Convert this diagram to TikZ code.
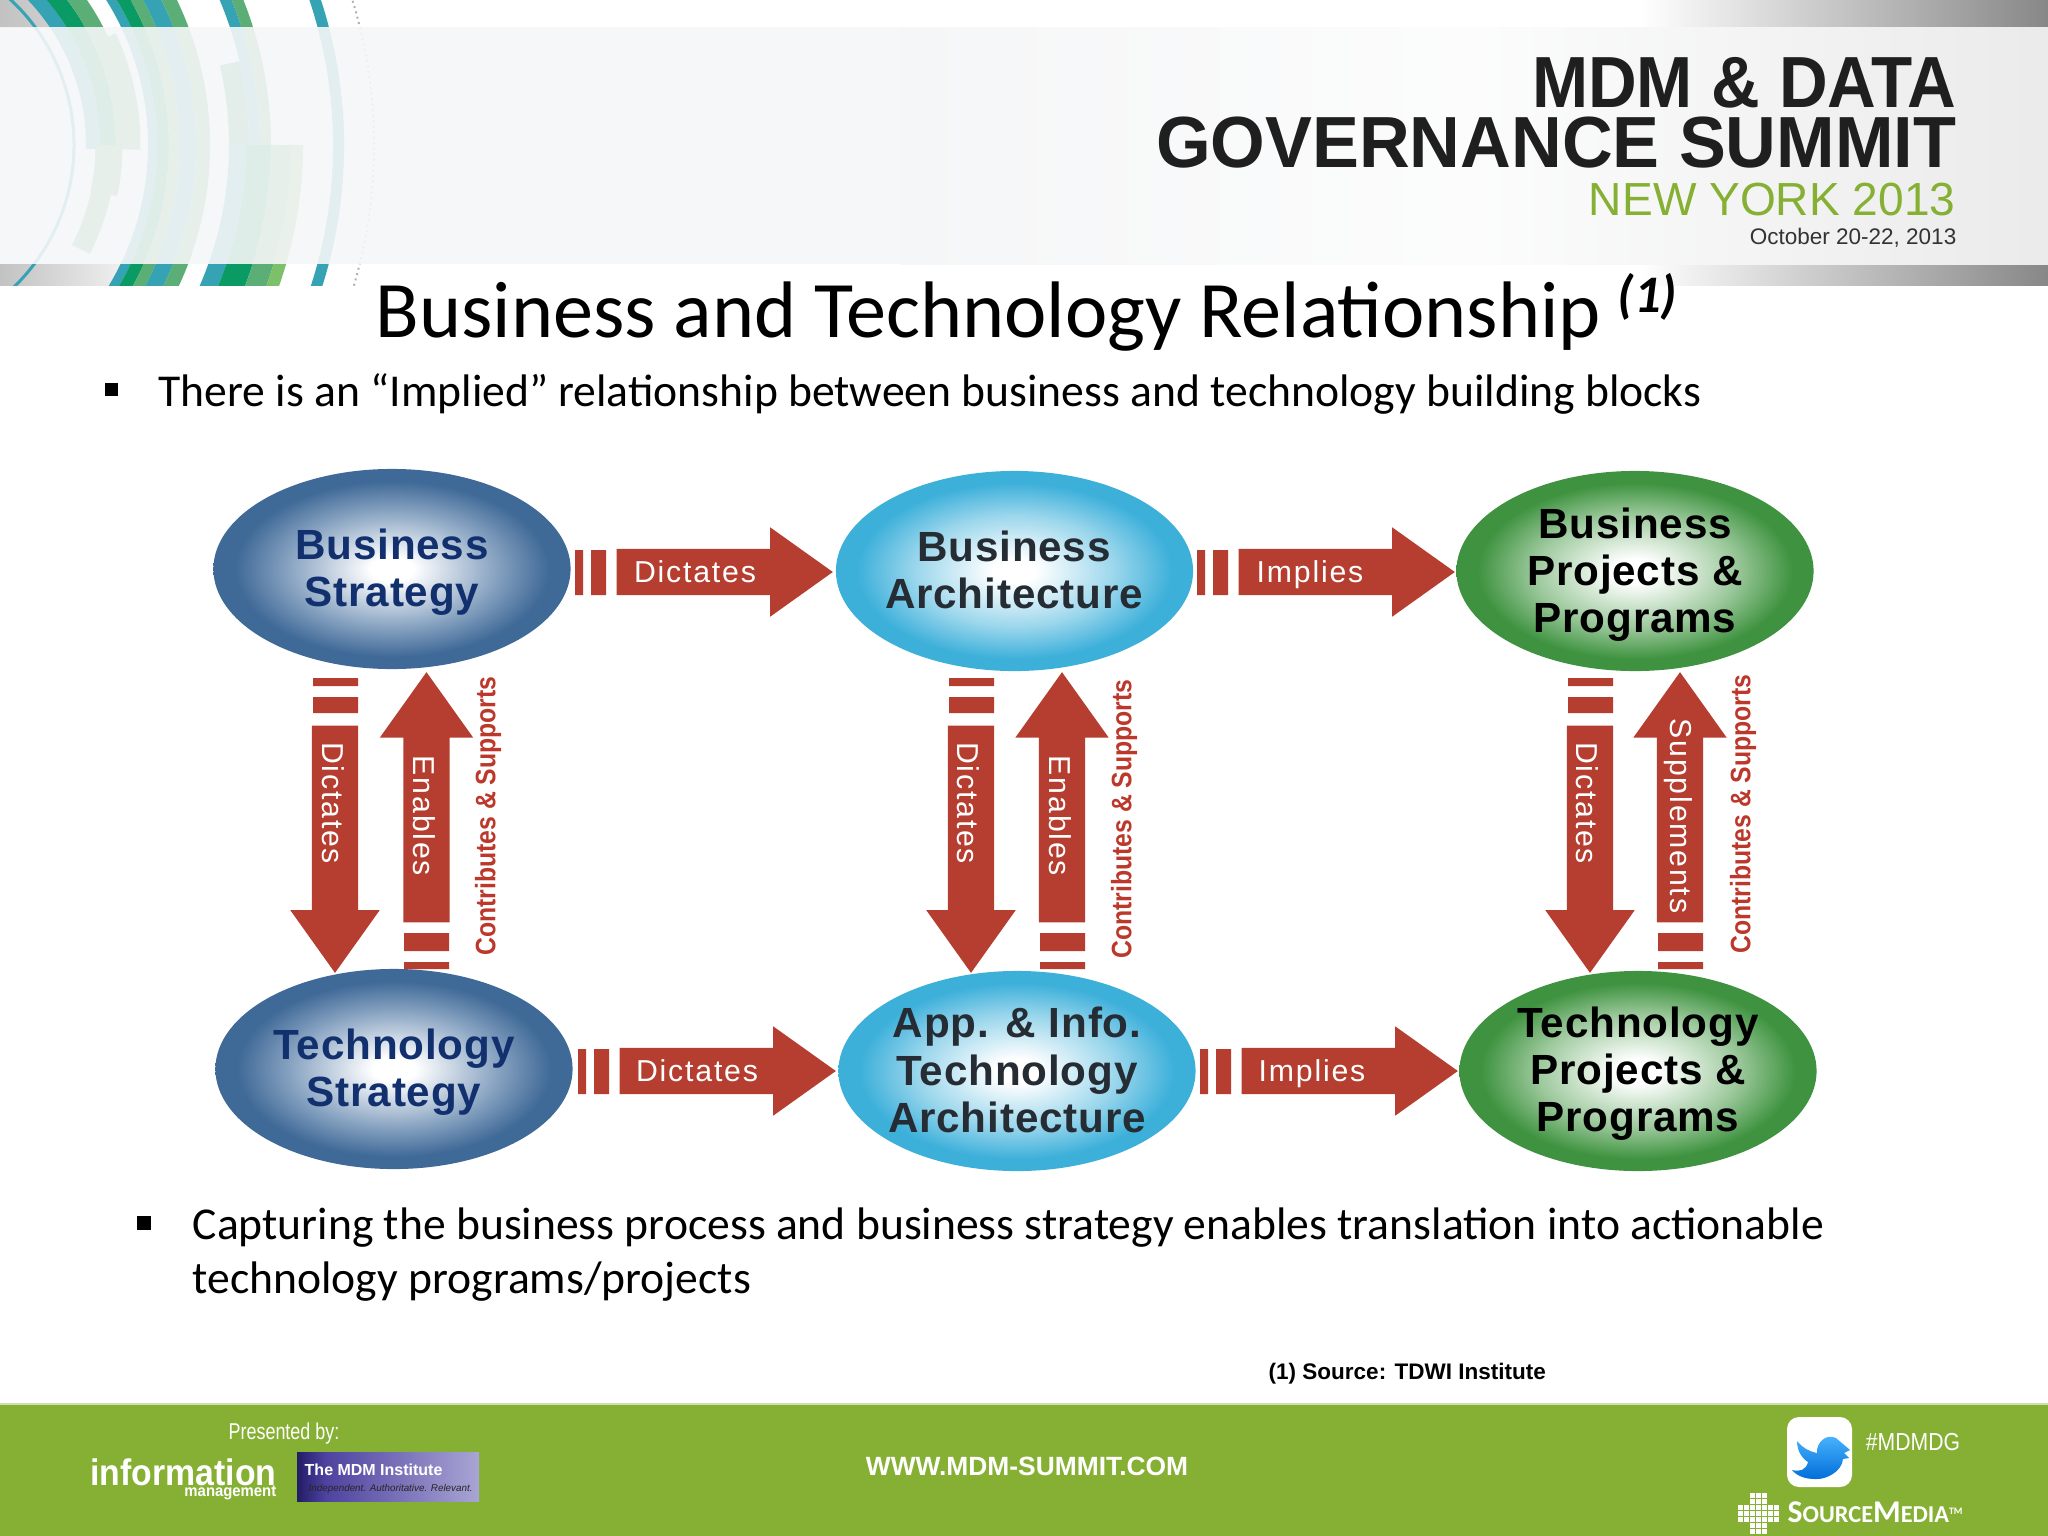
\documentclass[tikz,border=0pt]{standalone}
\usepackage{fontspec}
\setmainfont{Carlito}
\newfontfamily\arialfont{Liberation Sans}
\newfontfamily\ovalfont[LetterSpace=2]{Liberation Sans Bold}
\newfontfamily\arrowfont[LetterSpace=6]{Liberation Sans}
\usetikzlibrary{shapes.geometric,shapes.arrows}

\definecolor{ringteal}{HTML}{35A3B4}
\definecolor{ringdark}{HTML}{0A9A64}
\definecolor{ringgreen}{HTML}{5AAE76}
\definecolor{ringlight}{HTML}{7CC06A}
\definecolor{bandcol}{HTML}{F5F6F7}
\definecolor{footgreen}{HTML}{86B033}
\definecolor{arrowred}{HTML}{B53E30}
\definecolor{blueedge}{HTML}{3F6997}
\definecolor{bluemid}{HTML}{8DA7C4}
\definecolor{cyanedge}{HTML}{3DB0DA}
\definecolor{cyanmid}{HTML}{9AD6EC}
\definecolor{greenedge}{HTML}{3F9340}
\definecolor{greenmid}{HTML}{9DC99D}
\definecolor{ovalnavy}{HTML}{12306E}
\definecolor{ovalgray}{HTML}{262C33}
\definecolor{mdmdark}{HTML}{221D66}
\definecolor{mdmmid}{HTML}{4D429F}
\definecolor{mdmlight}{HTML}{A9A5D4}

\pgfdeclareradialshading{ovalblue}{\pgfpoint{0bp}{0bp}}{color(0bp)=(white); color(3bp)=(white); color(14bp)=(bluemid); color(22bp)=(blueedge); color(50bp)=(blueedge)}
\pgfdeclareradialshading{ovalcyan}{\pgfpoint{0bp}{0bp}}{color(0bp)=(white); color(3bp)=(white); color(14bp)=(cyanmid); color(22bp)=(cyanedge); color(50bp)=(cyanedge)}
\pgfdeclareradialshading{ovalgreen}{\pgfpoint{0bp}{0bp}}{color(0bp)=(white); color(3bp)=(white); color(14bp)=(greenmid); color(22bp)=(greenedge); color(50bp)=(greenedge)}

\tikzset{
  oval/.style={ellipse,minimum width=3.57cm,minimum height=2cm,inner sep=0pt},
  ovaltext/.style={align=center,inner sep=0pt,font=\ovalfont\fontsize{12}{13.4}\selectfont},
  blockarrow/.style={single arrow,draw=none,fill=arrowred,inner sep=.225cm,minimum width=.88cm,
    single arrow head extend=.215cm,single arrow tip angle=71,anchor=tail},
  arrowtext/.style={text=white,font=\arrowfont\fontsize{8.6}{10}\selectfont,inner sep=0pt},
  sidetext/.style={text=arrowred!90!red,rotate=90,inner sep=0pt,font=\arialfont\bfseries\fontsize{8}{10}\selectfont},
  stripe/.style={fill=arrowred},
  footwhite/.style={text=white,inner sep=0pt}
}

\begin{document}
\begin{tikzpicture}
  \begin{scope}[x=.01cm,y=-.01cm]
    \useasboundingbox (0,0) rectangle (2048,1536);

    % header
    \begin{scope}
      \clip (0,0) rectangle (2048,285);
      \shade[left color=white,right color=black!47] (1640,0) rectangle (2048,27);
      \shade[left color=white,right color=black!47] (1640,264) rectangle (2048,285);
      \shade[left color=black!24,right color=black!18] (0,0) rectangle (60,27);
      \shade[left color=black!24,right color=black!5] (0,264) rectangle (130,285);

      \begin{scope}[shift={(-124,145)}]
        \draw[line width=.03cm,color=ringteal] (-60:198) arc(-60:60:198);
        \draw[line width=.14cm,color=ringteal] (-60:217) arc(-60:1:217);
        \draw[line width=.16cm,color=ringdark] (-60:232) arc(-60:1:232);
        \draw[line width=.16cm,color=ringgreen] (-60:248) arc(-60:1:248);
        \draw[line width=.09cm,color=ringgreen] (-25:260) arc(-25:1:260);
        \draw[line width=.27cm,color=ringgreen] (0:233) arc(0:12:233);
        \draw[line width=.20cm,color=ringgreen] (12:230) arc(12:27:230);
        \draw[line width=.09cm,color=ringteal] (-60:276.5) arc(-60:60:276.5);
        \draw[line width=.12cm,color=ringdark] (-60:287) arc(-60:60:287);
        \draw[line width=.11cm,color=ringgreen] (-60:298.5) arc(-60:60:298.5);
        \draw[line width=.16cm,color=ringteal] (-60:312) arc(-60:60:312);
        \draw[line width=.14cm,color=ringgreen] (-60:327) arc(-60:60:327);
        \draw[line width=.11cm,color=ringteal] (-60:378.5) arc(-60:0:378.5);
        \draw[line width=.11cm,color=ringgreen] (-60:389.5) arc(-60:0:389.5);
        \draw[line width=.20cm,color=ringdark!55!ringgreen] (-13:363) arc(-13:0:363);
        \draw[line width=.17cm,color=ringteal] (0:361.5) arc(0:60:361.5);
        \draw[line width=.25cm,color=ringdark] (0:382.5) arc(0:60:382.5);
        \draw[line width=.20cm,color=ringgreen] (0:405) arc(0:60:405);
        \draw[line width=.12cm,color=ringlight] (0:421) arc(0:60:421);
        \draw[line width=.11cm,color=ringteal] (-60:462.5) arc(-60:60:462.5);
        \draw[line width=.02cm,color=black!30,densely dotted] (-60:498) arc(-60:60:498);
      \end{scope}

      \fill[bandcol,opacity=.91] (0,27) rectangle (900,264);
      \shade[left color=bandcol,right color=black!8,middle color=white!70!bandcol] (900,27) rectangle (2048,264);
    \end{scope}

    \node[anchor=base east,inner sep=0pt] (topline) at (1957,107) {\arialfont\bfseries\fontsize{20.6}{24}\selectfont\color{black!88}\scalebox{.93}[1]{MDM \& DATA}};
    \node[anchor=base east,inner sep=0pt] (midline) at (1957,167) {\arialfont\bfseries\fontsize{20.6}{24}\selectfont\color{black!88}\scalebox{.97}[1]{GOVERNANCE SUMMIT}};
    \node[anchor=base east,inner sep=0pt] (cityline) at (1956,215) {\arialfont\fontsize{13.2}{16}\selectfont\color{footgreen}\scalebox{.993}[1]{NEW YORK 2013}};
    \node[anchor=base east,inner sep=0pt] (dateline) at (1957,244) {\arialfont\fontsize{6.4}{8}\selectfont\color{black!80}October 20-22, 2013};

    % title and bullets
    \node[anchor=base west,inner sep=0pt] (title) at (375,337) {\fontsize{22.8}{27}\selectfont Business and Technology Relationship};
    \node[anchor=base west,inner sep=0pt] (titlemark) at (1617,312) {\fontsize{15}{18}\selectfont\bfseries\itshape (1)};
    \fill (105,383) rectangle (118,396);
    \node[anchor=base west,inner sep=0pt] (firstbullet) at (158,406) {\fontsize{12.97}{15.4}\selectfont There is an “Implied” relationship between business and technology building blocks};
    \fill (137,1216) rectangle (151,1230);
    \node[anchor=base west,inner sep=0pt] (secondbulletA) at (192,1239) {\fontsize{12.97}{15.4}\selectfont Capturing the business process and business strategy enables translation into actionable};
    \node[anchor=base west,inner sep=0pt] (secondbulletB) at (192,1293) {\fontsize{12.97}{15.4}\selectfont technology programs/projects};
    \node[anchor=west,inner sep=0pt] (source) at (1268,1374) {\arialfont\bfseries\fontsize{6.4}{8}\selectfont (1) Source: TDWI Institute};

    % ovals
    \node[oval,shading=ovalblue] (busstrategy) at (392,569) {};
    \node[oval,shading=ovalcyan] (busarch) at (1014.5,571) {};
    \node[oval,shading=ovalgreen] (busprojects) at (1635,571) {};
    \node[oval,shading=ovalblue] (techstrategy) at (394,1069) {};
    \node[oval,shading=ovalcyan] (apparch) at (1017,1071) {};
    \node[oval,shading=ovalgreen] (techprojects) at (1638,1071) {};
    \node[ovaltext,text=ovalnavy] (busstrategytext) at (392,572) {Business\\Strategy};
    \node[ovaltext,text=ovalgray] (busarchtext) at (1014,570) {Business\\Architecture};
    \node[ovaltext,text=black] (busprojectstext) at (1635,575) {Business\\Projects \&\\Programs};
    \node[ovaltext,text=ovalnavy] (techstrategytext) at (394,1072) {Technology\\Strategy};
    \node[ovaltext,text=ovalgray] (apparchtext) at (1017,1070) {App. \& Info.\\Technology\\Architecture};
    \node[ovaltext,text=black] (techprojectstext) at (1638,1074) {Technology\\Projects \&\\Programs};

    % horizontal arrows
    \node[blockarrow,minimum height=2.16cm] (dictatesA) at (616,572) {};
    \node[arrowtext] (dictatesAtext) at (695,572) {Dictates};
    \node[blockarrow,minimum height=2.16cm] (impliesA) at (1238,572) {};
    \node[arrowtext] (impliesAtext) at (1310,575) {Implies};
    \node[blockarrow,minimum height=2.16cm] (dictatesB) at (619,1071) {};
    \node[arrowtext] (dictatesBtext) at (697,1071) {Dictates};
    \node[blockarrow,minimum height=2.16cm] (impliesB) at (1241,1071) {};
    \node[arrowtext] (impliesBtext) at (1312,1074) {Implies};
    \fill[stripe]
    (575,550) rectangle (583,595)  (591,550) rectangle (606,595)
    (1197,550) rectangle (1205,595)  (1213,550) rectangle (1228,595)
    (578,1049) rectangle (586,1094)  (594,1049) rectangle (609,1094)
    (1200,1049) rectangle (1208,1094)  (1216,1049) rectangle (1231,1094)
    ;

    % down arrows
    \node[blockarrow,shape border rotate=270,minimum height=2.47cm] (dictatesC) at (335,725) {};
    \node[arrowtext,rotate=-90] (dictatesCtext) at (333,803) {Dictates};
    \node[blockarrow,shape border rotate=270,minimum height=2.47cm] (dictatesD) at (971,725) {};
    \node[arrowtext,rotate=-90] (dictatesDtext) at (968,803) {Dictates};
    \node[blockarrow,shape border rotate=270,minimum height=2.47cm] (dictatesE) at (1590,725) {};
    \node[arrowtext,rotate=-90] (dictatesEtext) at (1587,803) {Dictates};
    \fill[stripe]
    (313,678) rectangle (358,686)  (313,697) rectangle (358,713)
    (949,678) rectangle (994,686)  (949,697) rectangle (994,713)
    (1568,678) rectangle (1613,686)  (1568,697) rectangle (1613,713)
    ;

    % up arrows
    \node[blockarrow,shape border rotate=90,minimum width=.92cm,single arrow head extend=.235cm,minimum height=2.5cm] (enablesA) at (426.5,923) {};
    \node[arrowtext,rotate=-90] (enablesAtext) at (424,816) {Enables};
    \node[blockarrow,shape border rotate=90,minimum width=.92cm,single arrow head extend=.235cm,minimum height=2.5cm] (enablesB) at (1062,923) {};
    \node[arrowtext,rotate=-90] (enablesBtext) at (1060,816) {Enables};
    \node[blockarrow,shape border rotate=90,minimum width=.92cm,single arrow head extend=.235cm,minimum height=2.5cm] (supplements) at (1680,923) {};
    \node[arrowtext,rotate=-90] (supplementstext) at (1678,816) {Supplements};
    \fill[stripe]
    (404,933) rectangle (449,951)  (404,962) rectangle (449,969)
    (1040,933) rectangle (1085,951)  (1040,962) rectangle (1085,969)
    (1658,933) rectangle (1703,951)  (1658,962) rectangle (1703,969)
    ;

    \node[sidetext] (contribA) at (488,816) {\scalebox{.88}[1]{Contributes \& Supports}};
    \node[sidetext] (contribB) at (1124,819) {\scalebox{.88}[1]{Contributes \& Supports}};
    \node[sidetext] (contribC) at (1743,814) {\scalebox{.88}[1]{Contributes \& Supports}};

    % footer
    \fill[footgreen] (0,1404) rectangle (2048,1536);
    \fill[footgreen!40!white] (0,1403) rectangle (2048,1405);
    \node[footwhite] (presented) at (284,1434) {\arialfont\fontsize{6.5}{8}\selectfont\scalebox{.785}[1]{Presented by:}};
    \node[footwhite,anchor=base east] (infologo) at (277,1485) {\arialfont\bfseries\fontsize{10.5}{12}\selectfont\scalebox{.915}[1]{information}};
    \node[footwhite,anchor=base east] (mgmtlogo) at (277,1496) {\arialfont\bfseries\fontsize{4.6}{5}\selectfont\scalebox{.92}[1]{management}};
    \shade[left color=mdmdark,right color=mdmmid] (297,1452) rectangle (325,1501);
    \shade[left color=mdmmid,right color=mdmlight] (325,1452) rectangle (479,1501);
    \node[footwhite,anchor=west] (mdmname) at (304,1470) {\arialfont\bfseries\fontsize{4.55}{6}\selectfont The MDM Institute};
    \node[anchor=west,inner sep=0pt,text=black!85] (mdmmotto) at (308,1489) {\arialfont\itshape\fontsize{2.8}{4}\selectfont Independent. Authoritative. Relevant.};
    \node[footwhite] (website) at (1027,1466) {\arialfont\bfseries\fontsize{7.5}{9}\selectfont WWW.MDM-SUMMIT.COM};
    \fill[white,rounded corners=.12cm] (1787,1417) rectangle (1852,1487);
    \shade[top color=cyan!60!blue!70!white,bottom color=cyan!50!blue!85!black]
    (1797,1441) .. controls (1803,1448) and (1808,1451) .. (1817,1453)
    .. controls (1816,1443) and (1826,1433) .. (1836,1438)
    -- (1850,1450) -- (1844,1453) -- (1849,1458) -- (1843,1459)
    .. controls (1842,1472) and (1825,1480) .. (1815,1479)
    .. controls (1805,1479) and (1797,1476) .. (1792,1470)
    .. controls (1800,1472) and (1806,1470) .. (1808,1462)
    .. controls (1803,1459) and (1797,1452) .. (1797,1441) -- cycle;
    \node[footwhite] (hashtag) at (1913,1442) {\arialfont\fontsize{7}{8}\selectfont\scalebox{.86}[1]{\#MDMDG}};
    \foreach \i in {-3,...,3} \foreach \j in {-1,...,1} {
      \fill[white] (1758+\i*6-2,1513+\j*6-2) rectangle +(4.5,4.5);
      \fill[white] (1758+\j*6-2,1513+\i*6-2) rectangle +(4.5,4.5);
    }
    \node[footwhite,anchor=base west] (sourcemedia) at (1787,1522) {\bfseries\fontsize{9}{10}\selectfont S\fontsize{6.9}{10}\selectfont OURCE\fontsize{9}{10}\selectfont M\fontsize{6.9}{10}\selectfont EDIA\raisebox{2pt}{\fontsize{2.8}{4}\selectfont TM}};
  \end{scope}
\end{tikzpicture}
\end{document}
